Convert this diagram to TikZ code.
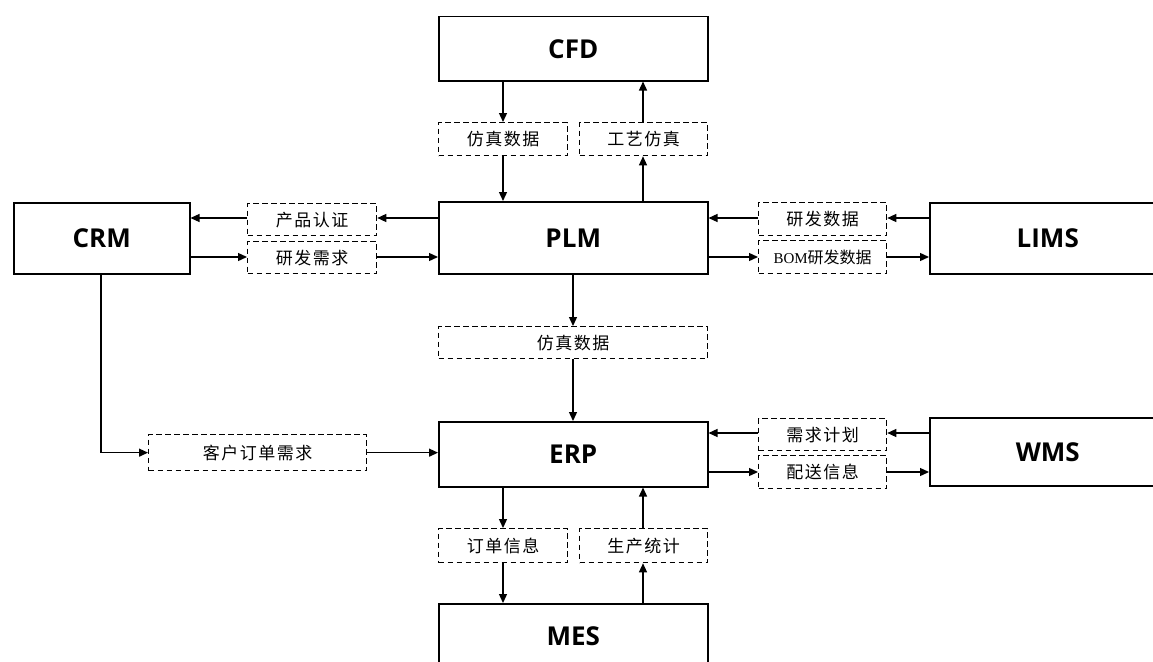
\documentclass[tikz,border=0pt]{standalone}
\usepackage{fontspec}
\usetikzlibrary{arrows.meta}
\newfontfamily\cjkf[LetterSpace=9]{Noto Sans CJK SC}
\newfontfamily\cjkn{Noto Sans CJK SC}
\newfontfamily\latf{Open Sans}
\newfontfamily\serf{Liberation Serif}
\begin{document}
\begin{tikzpicture}[x=1pt,y=-1pt,
  sysbox/.style={draw, line width=1.5pt, fill=white, anchor=north west, inner sep=0pt, font=\latf\bfseries\fontsize{26}{30}\selectfont},
  databox/.style={draw, dash pattern=on 5.5pt off 3.5pt, line width=1.3pt, fill=white, anchor=north west, inner sep=0pt, font=\cjkf\fontsize{17}{19}\selectfont},
  arr/.style={line width=1.3pt, -{Triangle[length=9pt,width=8pt]}}]
\useasboundingbox (0,0) rectangle (1153,661);
\clip (0,0) rectangle (1153,661);
\fill[white] (0,0) rectangle (1153,661);
% systems
\node[sysbox, minimum width=269pt, minimum height=64pt] (cfd) at (438,16) {CFD};
\node[sysbox, minimum width=269pt, minimum height=72pt] (plm) at (438,201) {PLM};
\node[sysbox, minimum width=269pt, minimum height=65pt] (erp) at (438,421) {ERP};
\node[sysbox, minimum width=269pt, minimum height=64pt] (mes) at (438,603) {MES};
\node[sysbox, minimum width=176pt, minimum height=71pt] (crm) at (13,202) {CRM};
\node[sysbox, minimum width=236pt, minimum height=71pt] (lims) at (929,202) {LIMS};
\node[sysbox, minimum width=236pt, minimum height=68pt] (wms) at (929,417) {WMS};
% data
\node[databox, minimum width=129pt, minimum height=33pt] (fz1) at (438,122) {仿真数据};
\node[databox, minimum width=128pt, minimum height=33pt] (gy) at (579,122) {工艺仿真};
\node[databox, minimum width=129pt, minimum height=32pt] (cprz) at (247,203) {产品认证};
\node[databox, minimum width=129pt, minimum height=32pt] (yfxq) at (247,241) {研发需求};
\node[databox, minimum width=128pt, minimum height=33pt] (yfsj) at (758,202) {研发数据};
\node[databox, minimum width=128pt, minimum height=33pt, font=\cjkn\fontsize{16}{18}\selectfont] (bom) at (758,240) {{\serf\fontsize{15}{17}\selectfont BOM}研发数据};
\node[databox, minimum width=269pt, minimum height=32pt] (fz2) at (438,326) {仿真数据};
\node[databox, minimum width=218pt, minimum height=36pt] (khdd) at (148,434) {客户订单需求};
\node[databox, minimum width=128pt, minimum height=32pt] (xqjh) at (758,418) {需求计划};
\node[databox, minimum width=128pt, minimum height=33pt] (psxx) at (758,455) {配送信息};
\node[databox, minimum width=129pt, minimum height=34pt] (ddxx) at (438,528) {订单信息};
\node[databox, minimum width=128pt, minimum height=34pt] (sctj) at (579,528) {生产统计};
% lanes
\coordinate (xl) at (503,0);
\coordinate (xr) at (643,0);
\coordinate (xm) at (573,0);
\coordinate (xc) at (101,0);
\coordinate (yu) at (0,218);
\coordinate (yd) at (0,257);
\coordinate (ye1) at (0,433);
\coordinate (ye2) at (0,472);
% connectors
\draw[arr] (cfd.south -| xl) -- (fz1.north -| xl);
\draw[arr] (fz1.south -| xl) -- (plm.north -| xl);
\draw[arr] (plm.north -| xr) -- (gy.south -| xr);
\draw[arr] (gy.north -| xr) -- (cfd.south -| xr);
\draw[arr] (plm.west |- yu) -- (cprz.east |- yu);
\draw[arr] (cprz.west |- yu) -- (crm.east |- yu);
\draw[arr] (crm.east |- yd) -- (yfxq.west |- yd);
\draw[arr] (yfxq.east |- yd) -- (plm.west |- yd);
\draw[arr] (lims.west |- yu) -- (yfsj.east |- yu);
\draw[arr] (yfsj.west |- yu) -- (plm.east |- yu);
\draw[arr] (plm.east |- yd) -- (bom.west |- yd);
\draw[arr] (bom.east |- yd) -- (lims.west |- yd);
\draw[arr] (plm.south -| xm) -- (fz2.north -| xm);
\draw[arr] (fz2.south -| xm) -- (erp.north -| xm);
\draw[arr] (crm.south -| xc) |- (khdd.west);
\draw[arr] (khdd.east) -- (erp.west |- khdd.east);
\draw[arr] (wms.west |- ye1) -- (xqjh.east |- ye1);
\draw[arr] (xqjh.west |- ye1) -- (erp.east |- ye1);
\draw[arr] (erp.east |- ye2) -- (psxx.west |- ye2);
\draw[arr] (psxx.east |- ye2) -- (wms.west |- ye2);
\draw[arr] (erp.south -| xl) -- (ddxx.north -| xl);
\draw[arr] (ddxx.south -| xl) -- (mes.north -| xl);
\draw[arr] (mes.north -| xr) -- (sctj.south -| xr);
\draw[arr] (sctj.north -| xr) -- (erp.south -| xr);
\end{tikzpicture}
\end{document}
